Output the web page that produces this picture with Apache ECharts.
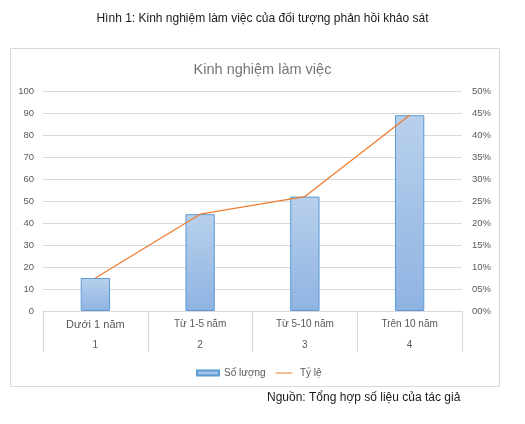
<!DOCTYPE html>
<html>
<head>
<meta charset="utf-8">
<script src="https://cdn.jsdelivr.net/npm/echarts@6/dist/echarts.min.js"></script>
<style>
html,body{margin:0;padding:0;background:#fff;}
#c{width:525px;height:424px;}
</style>
</head>
<body>
<div id="c"></div>
<script>
const categories = ['Dưới 1 năm', 'Từ 1-5 năm', 'Từ 5-10 năm', 'Trên 10 năm'];
const categoryNumbers = ['1', '2', '3', '4'];
const soLuong = [15, 44, 52, 89];
const tyLe = [0.075, 0.22, 0.26, 0.445];
const leftTicks = { min: 0, max: 100, interval: 10 };
const rightTicks = { min: 0, max: 0.5, interval: 0.05 };

const FONT = '"Liberation Sans", Arial, sans-serif';
const GREY = '#595959';
const GRID = '#d9d9d9';

const chart = echarts.init(document.getElementById('c'), null, { renderer: 'canvas' });
chart.setOption({
  backgroundColor: '#fff',
  animation: false,
  textStyle: { fontFamily: FONT },
  graphic: [
    { type: 'rect', shape: { x: 10.5, y: 48.5, width: 489, height: 338 },
      style: { fill: 'none', stroke: GRID, lineWidth: 1 }, z: -1 },
    { type: 'text', left: 'center', top: 13,
      style: { text: 'Hình 1: Kinh nghiệm làm việc của đối tượng phản hồi khảo sát',
               font: '12px ' + FONT, fill: '#1a1a1a' } },
    { type: 'text', left: 267, top: 392,
      style: { text: 'Nguồn: Tổng hợp số liệu của tác giả',
               font: '12px ' + FONT, fill: '#1a1a1a' } }
  ],
  title: {
    text: 'Kinh nghiệm làm việc',
    left: 'center', top: 57,
    textStyle: { fontSize: 14.5, fontWeight: 'normal', color: '#757575', fontFamily: FONT }
  },
  legend: {
    left: 191, top: 363,
    itemGap: 10, itemWidth: 22, itemHeight: 5,
    textStyle: { color: GREY, fontSize: 10, fontFamily: FONT },
    data: [
      { name: 'Số lượng', icon: 'rect' },
      { name: 'Tỷ lệ', icon: 'path://M0,0 L20,0 L20,0.01 Z M0,2.4 L20,2.4 L20,3.6 L0,3.6 Z M0,6 L20,6 L20,6.01 Z' }
    ]
  },
  grid: { left: 43, right: 63, top: 91, bottom: 113, containLabel: false },
  xAxis: {
    type: 'category',
    data: categories,
    axisLine: { lineStyle: { color: GRID } },
    axisTick: { show: true, length: 41, interval: 0, alignWithLabel: false, lineStyle: { color: GRID } },
    axisLabel: {
      interval: 0, margin: 3,
      formatter: function (v, i) {
        const key = i === 0 ? 'a0' : 'a';
        return '{' + key + '|' + v + '}\n{b|' + categoryNumbers[i] + '}';
      },
      rich: {
        a0: { fontSize: 11, lineHeight: 21, color: GREY, fontFamily: FONT },
        a: { fontSize: 10, lineHeight: 21, color: GREY, fontFamily: FONT },
        b: { fontSize: 10, lineHeight: 21, color: GREY, fontFamily: FONT }
      }
    }
  },
  yAxis: [
    {
      type: 'value', min: leftTicks.min, max: leftTicks.max, interval: leftTicks.interval,
      axisLine: { show: false }, axisTick: { show: false },
      axisLabel: { color: GREY, fontSize: 9.5, margin: 9, fontFamily: FONT },
      splitLine: { lineStyle: { color: GRID } }
    },
    {
      type: 'value', min: rightTicks.min, max: rightTicks.max, interval: rightTicks.interval,
      axisLine: { show: false }, axisTick: { show: false },
      axisLabel: {
        color: GREY, fontSize: 9.5, margin: 10, fontFamily: FONT,
        formatter: function (v) {
          const p = Math.round(v * 100);
          return (p < 10 ? '0' + p : '' + p) + '%';
        }
      },
      splitLine: { show: false }
    }
  ],
  series: [
    {
      name: 'Số lượng', type: 'bar', data: soLuong, barWidth: '28%', yAxisIndex: 0,
      itemStyle: {
        color: new echarts.graphic.LinearGradient(0, 0, 0, 1, [
          { offset: 0, color: '#b8d0ec' },
          { offset: 1, color: '#8fb3e2' }
        ]),
        borderColor: '#5b9bd5', borderWidth: 1
      }
    },
    {
      name: 'Tỷ lệ', type: 'line', data: tyLe, yAxisIndex: 1,
      symbol: 'none', showSymbol: false,
      lineStyle: { color: '#ed7d31', width: 1.3 },
      itemStyle: { color: '#ed7d31' }
    }
  ]
});
</script>
</body>
</html>
